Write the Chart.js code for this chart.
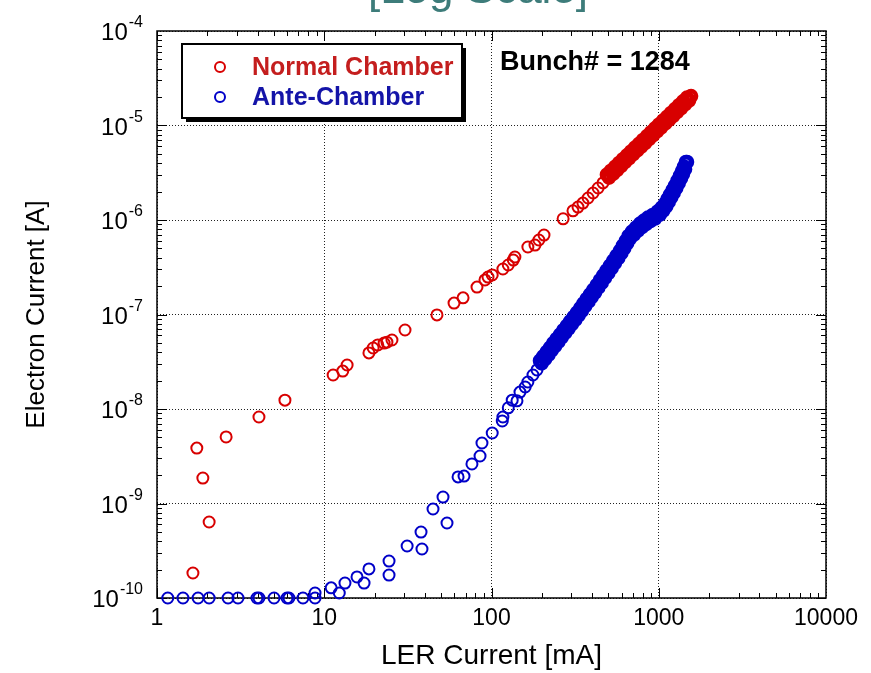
<!DOCTYPE html>
<html>
<head>
<meta charset="utf-8">
<script src="https://cdn.jsdelivr.net/npm/chart.js@4.4.1/dist/chart.umd.min.js"></script>
<style>
  html, body { margin: 0; padding: 0; background: #fff; }
  #wrap { width: 871px; height: 673px; }
</style>
</head>
<body>
<div id="wrap"><canvas id="chart" width="871" height="673"></canvas></div>
<script>
const FONT = "'Liberation Sans', Arial, Helvetica, sans-serif";

const seriesNames = ["Normal Chamber", "Ante-Chamber"];
const seriesColors = ["#d80000", "#0000c8"];
const legendTextColors = ["#c41e1e", "#1414a8"];
const xDecades = [1, 10, 100, 1000, 10000];
const yExponents = [-10, -9, -8, -7, -6, -5, -4];
// first N points of each series are isolated; the rest pile up into a solid band
const sparseCounts = [40, 44];

// LER current [mA] and electron current [A], normal chamber
const normalLer = [
  1.64, 1.73, 1.88, 2.05, 2.59, 4.07, 5.82, 11.3, 12.9, 13.7, 18.5, 19.6, 20.9, 22.8, 23.7, 25.4,
  30.4, 47.2, 59.7, 67.6, 81.9, 91.4, 95.3, 101, 117, 126, 135, 138, 165, 182, 192, 206,
  268, 307, 329, 352, 378, 405, 434, 464,
  490, 504, 518, 533, 548, 563, 579, 595, 611, 628, 646, 664, 683, 702, 721, 741, 762, 783,
  805, 828, 851, 875, 899, 924, 950, 977, 1004, 1032, 1061, 1090, 1121, 1152, 1184, 1217,
  1251, 1286, 1322, 1359, 1397, 1436, 1476, 1517, 1560
];
const normalElec = [
  1.84e-10, 3.86e-9, 1.86e-9, 6.37e-10, 5.06e-9, 8.23e-9, 1.24e-8, 2.29e-8, 2.52e-8, 2.92e-8,
  3.92e-8, 4.42e-8, 4.76e-8, 4.99e-8, 5.1e-8, 5.37e-8, 6.85e-8, 9.9e-8, 1.32e-7, 1.5e-7,
  1.95e-7, 2.32e-7, 2.49e-7, 2.62e-7, 3.03e-7, 3.34e-7, 3.77e-7, 4.06e-7, 5.18e-7, 5.43e-7,
  6.14e-7, 6.93e-7, 1.03e-6, 1.25e-6, 1.37e-6, 1.51e-6, 1.71e-6, 1.93e-6, 2.18e-6, 2.47e-6,
  3.02e-6, 2.81e-6, 3.32e-6, 3.08e-6, 3.65e-6, 3.38e-6, 4.01e-6, 3.72e-6, 4.40e-6, 4.09e-6,
  4.83e-6, 4.49e-6, 5.31e-6, 4.94e-6, 5.83e-6, 5.41e-6, 6.40e-6, 5.95e-6, 7.03e-6, 6.53e-6,
  7.73e-6, 7.18e-6, 8.48e-6, 7.89e-6, 9.32e-6, 8.66e-6, 1.024e-5, 9.51e-6, 1.125e-5, 1.045e-5,
  1.235e-5, 1.148e-5, 1.357e-5, 1.261e-5, 1.490e-5, 1.386e-5, 1.638e-5, 1.522e-5, 1.799e-5,
  1.672e-5, 1.976e-5, 1.837e-5, 2.05e-5
];

// LER current [mA] and electron current [A], ante-chamber
const anteLer = [
  1.16, 1.43, 1.76, 2.05, 2.66, 3.05, 3.96, 4.07, 5.01, 5.99, 6.15, 7.46, 8.81,
  8.81, 11.0, 12.3, 13.3, 15.7, 17.3, 18.5, 24.4, 24.4, 31.3, 38.4, 37.9, 44.7, 51.3, 54.2,
  63.1, 68.5, 76.4, 85.4, 87.7, 101, 116, 117, 126, 133, 142, 148, 159, 165, 177, 187,
  195, 199.5, 204, 209, 214, 219, 224, 229, 234, 240, 245, 251,
  257, 263, 269, 275.5, 282, 289, 295.5, 302.5, 310, 317,
  324.5, 332, 339.5, 347, 355, 363, 371, 380, 388.5, 397, 406,
  416, 425.5, 435, 445, 456, 466, 477, 488, 499.5,
  511, 523, 535, 547, 560, 573, 587, 598, 610, 622, 635, 647, 660,
  673, 692, 711, 731, 751.5, 773, 794, 816, 839, 862.5, 891, 920, 950, 983,
  1017, 1041, 1065, 1090, 1109, 1128, 1148, 1168, 1188, 1209, 1229,
  1251, 1273, 1295, 1317, 1340, 1359, 1378, 1396, 1416, 1436, 1455, 1475
];
const anteElec = [
  1e-10, 1e-10, 1e-10, 1e-10, 1e-10, 1e-10, 1e-10, 1e-10, 1e-10, 1e-10, 1e-10, 1e-10, 1e-10,
  1.13e-10, 1.28e-10, 1.13e-10, 1.44e-10, 1.67e-10, 1.44e-10, 2.03e-10, 2.46e-10, 1.75e-10,
  3.55e-10, 3.3e-10, 4.99e-10, 8.75e-10, 1.17e-9, 6.22e-10,
  1.91e-9, 1.95e-9, 2.62e-9, 3.18e-9, 4.37e-9, 5.57e-9, 7.46e-9, 8.23e-9, 1.03e-8, 1.24e-8,
  1.22e-8, 1.51e-8, 1.71e-8, 1.93e-8, 2.29e-8, 2.59e-8,
  3.25e-8, 3.04e-8, 3.61e-8, 3.37e-8, 4.02e-8, 3.75e-8, 4.46e-8, 4.17e-8, 4.96e-8, 4.63e-8, 5.51e-8, 5.15e-8,
  6.13e-8, 5.73e-8, 6.82e-8, 6.38e-8, 7.59e-8, 7.10e-8, 8.45e-8, 7.91e-8, 9.41e-8, 8.80e-8,
  1.047e-7, 9.81e-8, 1.170e-7, 1.096e-7, 1.307e-7, 1.225e-7, 1.460e-7, 1.368e-7, 1.631e-7, 1.528e-7, 1.822e-7,
  1.708e-7, 2.045e-7, 1.923e-7, 2.302e-7, 2.168e-7, 2.594e-7, 2.441e-7, 2.921e-7, 2.750e-7,
  3.291e-7, 3.102e-7, 3.718e-7, 3.503e-7, 4.199e-7, 3.957e-7, 4.744e-7, 4.463e-7, 5.340e-7, 5.023e-7,
  6.010e-7, 5.656e-7, 6.766e-7,
  6.36e-7, 7.54e-7, 7.01e-7, 8.31e-7, 7.74e-7, 9.16e-7, 8.42e-7, 9.85e-7, 9.06e-7, 1.06e-6, 9.71e-7,
  1.131e-6, 1.036e-6, 1.226e-6,
  1.142e-6, 1.353e-6, 1.260e-6, 1.490e-6, 1.397e-6, 1.664e-6, 1.559e-6, 1.856e-6, 1.739e-6, 2.071e-6, 1.940e-6,
  2.312e-6, 2.178e-6, 2.611e-6, 2.461e-6, 2.949e-6, 2.763e-6, 3.291e-6, 3.083e-6, 3.672e-6, 3.447e-6,
  4.115e-6, 4.11e-6
];

const toPoints = (xs, ys) => xs.map((x, i) => ({ x, y: ys[i] }));
const isDecade = (v) => {
  const l = Math.log10(v);
  return Math.abs(l - Math.round(l)) < 1e-6;
};
const gridColor = (c) => (c.tick && isDecade(c.tick.value) ? "#222" : "rgba(0,0,0,0)");

// frame with inward tick marks, superscript y labels, boxed legend, annotation
const framePlugin = {
  id: "frame",
  beforeDatasetsDraw(chart) {
    const { ctx, chartArea: a, scales } = chart;
    const x = scales.x, y = scales.y;
    ctx.save();
    ctx.strokeStyle = "#000";
    ctx.lineWidth = 1;
    ctx.beginPath();
    for (let e = 0; e < 4; e++) {
      for (let m = 1; m < 10; m++) {
        const px = Math.round(x.getPixelForValue(m * Math.pow(10, e))) + 0.5;
        const len = m === 1 ? 10 : 5;
        ctx.moveTo(px, a.bottom); ctx.lineTo(px, a.bottom - len);
        ctx.moveTo(px, a.top); ctx.lineTo(px, a.top + len);
      }
    }
    for (let e = -10; e < -4; e++) {
      for (let m = 1; m < 10; m++) {
        const py = Math.round(y.getPixelForValue(m * Math.pow(10, e))) + 0.5;
        const len = m === 1 ? 10 : 5;
        ctx.moveTo(a.left, py); ctx.lineTo(a.left + len, py);
        ctx.moveTo(a.right, py); ctx.lineTo(a.right - len, py);
      }
    }
    ctx.stroke();
    ctx.lineWidth = 1.5;
    ctx.strokeRect(a.left, a.top, a.right - a.left, a.bottom - a.top);
    ctx.restore();
  },
  afterDraw(chart) {
    const { ctx, scales } = chart;
    const y = scales.y;
    ctx.save();

    // y tick labels: 10 with superscript exponent
    ctx.fillStyle = "#000";
    ctx.textBaseline = "alphabetic";
    yExponents.forEach((e) => {
      const py = y.getPixelForValue(Math.pow(10, e));
      const sup = String(e);
      ctx.font = `16px ${FONT}`;
      const ws = ctx.measureText(sup).width;
      ctx.textAlign = "left";
      ctx.fillText(sup, 143 - ws, py - 4);
      ctx.font = `24px ${FONT}`;
      ctx.textAlign = "right";
      ctx.fillText("10", 142 - ws, py + 9);
    });

    // legend box with drop shadow
    ctx.fillStyle = "#000";
    ctx.fillRect(186, 48, 280, 74);
    ctx.fillStyle = "#fff";
    ctx.fillRect(182, 44, 280, 74);
    ctx.lineWidth = 2;
    ctx.strokeStyle = "#000";
    ctx.strokeRect(182, 44, 280, 74);
    ctx.font = `bold 25px ${FONT}`;
    ctx.textAlign = "left";
    ctx.textBaseline = "middle";
    seriesNames.forEach((name, i) => {
      const ly = 67 + i * 30;
      ctx.beginPath();
      ctx.arc(220, ly, 5, 0, Math.PI * 2);
      ctx.strokeStyle = seriesColors[i];
      ctx.stroke();
      ctx.fillStyle = legendTextColors[i];
      ctx.fillText(name, 252, ly + 1);
    });

    ctx.fillStyle = "#000";
    ctx.font = `bold 27px ${FONT}`;
    ctx.fillText("Bunch# = 1284", 500, 63);

    // slide heading, mostly cut off at the top edge
    ctx.fillStyle = "#3d7c7a";
    ctx.font = `44px ${FONT}`;
    ctx.textAlign = "center";
    ctx.textBaseline = "alphabetic";
    ctx.fillText("[Log Scale]", 478, 3);
    ctx.restore();
  },
};

const datasets = [
  { data: toPoints(normalLer, normalElec) },
  { data: toPoints(anteLer, anteElec) },
].map((d, i) => ({
  ...d,
  label: seriesNames[i],
  borderColor: seriesColors[i],
  backgroundColor: "rgba(0,0,0,0)",
  pointRadius: (c) => (c.dataIndex >= sparseCounts[i] ? 5 : 5.5),
  pointBorderWidth: (c) => (c.dataIndex >= sparseCounts[i] ? 4.6 : 2),
  clip: false,
}));

new Chart(document.getElementById("chart").getContext("2d"), {
  type: "scatter",
  data: { datasets },
  options: {
    responsive: false,
    animation: false,
    events: [],
    layout: { padding: { left: 0, right: 45, top: 31, bottom: 0 } },
    plugins: {
      legend: { display: false },
      tooltip: { enabled: false },
    },
    scales: {
      x: {
        type: "logarithmic",
        min: 1,
        max: 10000,
        afterFit: (s) => { s.height = 75; },
        grid: { drawTicks: false, lineWidth: 1, color: gridColor },
        border: { display: false, dash: [1, 2] },
        ticks: {
          autoSkip: false,
          maxRotation: 0,
          padding: 7,
          color: "#000",
          font: { family: FONT, size: 23 },
          callback: (v) => (xDecades.includes(v) ? String(v) : ""),
        },
        title: {
          display: true,
          text: "LER Current [mA]",
          color: "#000",
          font: { family: FONT, size: 28 },
          padding: { top: 0, bottom: 0 },
        },
      },
      y: {
        type: "logarithmic",
        min: 1e-10,
        max: 1e-4,
        afterFit: (s) => { s.width = 157; },
        grid: { drawTicks: false, lineWidth: 1, color: gridColor },
        border: { display: false, dash: [1, 2] },
        ticks: { display: false, autoSkip: false },
        title: {
          display: true,
          text: "Electron Current [A]",
          color: "#000",
          font: { family: FONT, size: 26 },
          padding: { top: 21, bottom: 0 },
        },
      },
    },
  },
  plugins: [framePlugin],
});
</script>
</body>
</html>
